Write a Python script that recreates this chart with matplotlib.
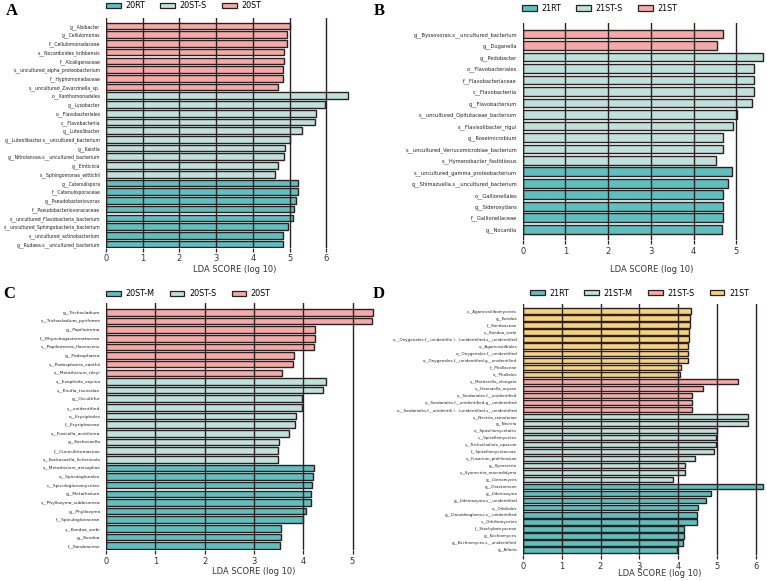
import matplotlib
matplotlib.use("Agg")
import matplotlib.pyplot as plt
from matplotlib.patches import Patch

W, H = 767, 581

TEAL = "#5fbfbf"
LIGHT = "#bfe0db"
PINK = "#f5aaa9"
YELLOW = "#f6d17e"
DARK = "#2b2020"

# ---- panel A (bacteria 2020) ----
a_groups = ["20RT", "20ST-S", "20ST"]
a_labels = [
    "g__Alsibacter", "g__Cellulomonas", "f__Cellulomonadaceae", "s__Nocardioides_kribbensis",
    "f__Alcaligenaceae", "s__uncultured_alpha_proteobacterium", "f__Hyphomonadaceae",
    "s__uncultured_Zavarzinella_sp.",
    "o__Xanthomonadales", "g__Lysobacter", "o__Flavobacteriales", "c__Flavobacteriia",
    "g__Luteolibacter", "g__Luteolibacter.s__uncultured_bacterium", "g__Kaistia",
    "g__Nitrolancea.s__uncultured_bacterium", "g__Emticicia", "s__Sphingomonas_wittichii",
    "g__Catenulispora", "f__Catenulisporaceae", "g__Pseudobacteriovorax",
    "f__Pseudobacteriovoracaceae", "s__uncultured_Flavobacteria_bacterium",
    "s__uncultured_Sphingobacteria_bacterium", "s__uncultured_actinobacterium",
    "g__Rudaea.s__uncultured_bacterium",
]
a_values = [5.01, 4.94, 4.94, 4.86, 4.86, 4.83, 4.81, 4.70,
            6.60, 5.97, 5.71, 5.69, 5.33, 5.01, 4.88, 4.86, 4.70, 4.60,
            5.22, 5.22, 5.19, 5.13, 5.09, 4.97, 4.81, 4.81]
a_group_of = ["20ST"] * 8 + ["20ST-S"] * 10 + ["20RT"] * 8

# ---- panel B (bacteria 2021) ----
b_groups = ["21RT", "21ST-S", "21ST"]
b_labels = [
    "g__Byssovorax.s__uncultured_bacterium", "g__Duganella",
    "g__Pedobacter", "o__Flavobacteriales", "f__Flavobacteriaceae", "c__Flavobacteriia",
    "g__Flavobacterium", "s__uncultured_Opitutaceae_bacterium", "s__Flavisolibacter_rigui",
    "g__Roseimicrobium", "s__uncultured_Verrucomicrobiae_bacterium",
    "s__Hymenobacter_fastidiosus",
    "s__uncultured_gamma_proteobacterium", "g__Shimazuella.s__uncultured_bacterium",
    "o__Gallionellales", "g__Sideroxydans", "f__Gallionellaceae", "g__Nocardia",
]
b_values = [4.68, 4.54,
            5.62, 5.42, 5.41, 5.41, 5.36, 5.03, 4.92, 4.70, 4.68, 4.52,
            4.89, 4.80, 4.70, 4.68, 4.68, 4.66]
b_group_of = ["21ST"] * 2 + ["21ST-S"] * 10 + ["21RT"] * 6

# ---- panel C (fungi 2020) ----
c_groups = ["20ST-M", "20ST-S", "20ST"]
c_labels = [
    "g__Trichocladium", "s__Trichocladium_pyriforme", "g__Papiliotrema",
    "f__Rhynchogastremataceae", "s__Papiliotrema_flavescens", "g__Podosphaera",
    "s__Podosphaera_xanthii", "s__Metarhizium_rileyi",
    "s__Exophiala_equina", "s__Knufia_tsunedae", "g__Occultifur", "s__unidentified",
    "o__Erysiphales", "f__Erysiphaceae", "s__Fusicolla_acetilerea", "g__Kockovaella",
    "f__Cuniculitremaceae", "s__Kockovaella_lichenicola",
    "s__Metarhizium_anisopliae", "o__Spiculogloeales", "c__Spiculogloeomycetes",
    "g__Metarhizium", "s__Phyllozyma_subbrunnea", "g__Phyllozyma", "f__Spiculogloeaceae",
    "s__Kondoa_sorbi", "g__Kondoa", "f__Kondoaceae",
]
c_values = [5.41, 5.40, 4.23, 4.23, 4.22, 3.81, 3.80, 3.58,
            4.46, 4.41, 3.98, 3.98, 3.85, 3.84, 3.71, 3.50, 3.49, 3.49,
            4.22, 4.20, 4.18, 4.16, 4.16, 4.05, 4.00, 3.55, 3.54, 3.52]
c_group_of = ["20ST"] * 8 + ["20ST-S"] * 10 + ["20ST-M"] * 10

# ---- panel D (fungi 2021) ----
d_groups = ["21RT", "21ST-M", "21ST-S", "21ST"]
d_labels = [
    "c__Agaricostilbomycetes", "g__Kondoa", "f__Kondoaceae", "s__Kondoa_sorbi",
    "o__Onygenales.f__unidentifie (...)unidentified.s__unidentified", "o__Agaricostilbales",
    "o__Onygenales.f__unidentified", "o__Onygenales.f__unidentified.g__unidentified",
    "f__Phallaceae", "o__Phallales",
    "s__Mortierella_elongata", "s__Hannaella_oryzae", "o__Sordariales.f__unidentified",
    "o__Sordariales.f__unidentified.g__unidentified",
    "o__Sordariales.f__unidentifi (...)unidentified.s__unidentified",
    "s__Nectria_ramulariae", "g__Nectria", "o__Spizellomycetales", "c__Spizellomycetes",
    "s__Trichocladium_opacum", "f__Spizellomycetaceae", "s__Fusarium_proliferatum",
    "g__Ilyonectria", "s__Ilyonectria_macrodidyma", "g__Ctenomyces",
    "g__Chaetomium", "g__Udeniozyma", "g__Udeniozyma.s__unidentified", "o__Orbiliales",
    "g__Claroideoglomus.s__unidentified", "c__Orbiliomycetes", "f__Stachybotryaceae",
    "g__Kochiomyces", "g__Kochiomyces.s__unidentified", "g__Alfaria",
]
d_values = [4.32, 4.31, 4.30, 4.28, 4.27, 4.26, 4.25, 4.25, 4.07, 4.05,
            5.54, 4.64, 4.36, 4.34, 4.34,
            5.80, 5.80, 5.00, 4.98, 4.97, 4.93, 4.44, 4.18, 4.16, 3.87,
            6.19, 4.84, 4.71, 4.50, 4.49, 4.48, 4.15, 4.14, 4.11, 3.96]
d_group_of = ["21ST"] * 10 + ["21ST-S"] * 5 + ["21ST-M"] * 10 + ["21RT"] * 10

group_colors = {
    "20RT": TEAL, "20ST-M": TEAL, "20ST-S": LIGHT, "20ST": PINK,
    "21RT": TEAL, "21ST-M": LIGHT, "21ST": PINK,
}


def fig_xy(px, py):
    return px / W, 1 - py / H


def draw_panel(fig, letter, letter_xy, labels, values, group_of, groups, colors,
               x0, unit, y_first, y_last, top, bottom, xmax, ticks,
               label_size, xlabel_xy, legend_xy, legend_gap):
    n = len(labels)
    step = (y_last - y_first) / (n - 1)
    left, bot = fig_xy(x0, bottom)
    ax = fig.add_axes([left, bot, xmax * unit / W, (bottom - top) / H])

    ypos = list(range(n))
    bar_colors = [colors[g] for g in group_of]
    ax.barh(ypos, values, height=0.76, color=bar_colors, edgecolor=DARK,
            linewidth=1.0, zorder=2)

    ax.set_xlim(0, xmax)
    ax.set_ylim(n - 1 + (bottom - y_last) / step, -(y_first - top) / step)
    ax.set_xticks(ticks)
    ax.set_xticklabels([str(t) for t in ticks], fontsize=6, color="#333333")
    ax.set_yticks(ypos)
    ax.set_yticklabels(labels, fontsize=label_size, color="#222222")
    ax.tick_params(axis="y", length=0, pad=4)
    ax.tick_params(axis="x", length=3, width=0.9, color=DARK, pad=2)
    for s in ax.spines.values():
        s.set_visible(False)
    ax.grid(axis="x", color=DARK, linewidth=1.0, zorder=3)
    ax.grid(axis="y", visible=False)
    ax.set_axisbelow(False)

    ax.set_xlabel("LDA SCORE (log 10)", fontsize=6, color="#333333")
    ax.xaxis.set_label_coords(*fig_xy(*xlabel_xy), transform=fig.transFigure)

    handles = [Patch(facecolor=colors[g], edgecolor=DARK, linewidth=0.9) for g in groups]
    fig.legend(handles, groups, loc="center left",
               bbox_to_anchor=fig_xy(*legend_xy), frameon=False, ncol=len(groups),
               fontsize=5.8, handlelength=1.8, handleheight=0.65, handletextpad=0.6,
               columnspacing=legend_gap, borderpad=0, borderaxespad=0)

    fig.text(*fig_xy(*letter_xy), letter, fontsize=12, fontweight="bold",
             family="Liberation Serif", ha="center", va="center")
    return ax


fig = plt.figure(figsize=(W / 100, H / 100), dpi=100)

draw_panel(fig, "A", (12, 11), a_labels, a_values, a_group_of, a_groups, group_colors,
           x0=106, unit=36.7, y_first=26, y_last=244, top=18, bottom=247.5, xmax=6.8,
           ticks=[0, 1, 2, 3, 4, 5, 6], label_size=3.3,
           xlabel_xy=(235, 265), legend_xy=(106, 6), legend_gap=1.9)

draw_panel(fig, "B", (379, 11), b_labels, b_values, b_group_of, b_groups,
           {"21RT": TEAL, "21ST-S": LIGHT, "21ST": PINK},
           x0=522.7, unit=42.7, y_first=34, y_last=229.3, top=22.7, bottom=240, xmax=5.7,
           ticks=[0, 1, 2, 3, 4, 5], label_size=3.7,
           xlabel_xy=(651.7, 264.5), legend_xy=(522, 8.5), legend_gap=1.9)

draw_panel(fig, "C", (9, 294), c_labels, c_values, c_group_of, c_groups, group_colors,
           x0=106, unit=49.3, y_first=312.3, y_last=545.7, top=303.3, bottom=550, xmax=5.6,
           ticks=[0, 1, 2, 3, 4, 5], label_size=3.2,
           xlabel_xy=(253.3, 567), legend_xy=(106, 294), legend_gap=1.9)

draw_panel(fig, "D", (379, 294), d_labels, d_values, d_group_of, d_groups,
           {"21RT": TEAL, "21ST-M": LIGHT, "21ST-S": PINK, "21ST": YELLOW},
           x0=522.7, unit=38.9, y_first=311, y_last=550, top=304, bottom=555, xmax=6.25,
           ticks=[0, 1, 2, 3, 4, 5, 6], label_size=2.9,
           xlabel_xy=(659.3, 569.5), legend_xy=(530, 293), legend_gap=1.9)

plt.savefig("out.png", dpi=100)
